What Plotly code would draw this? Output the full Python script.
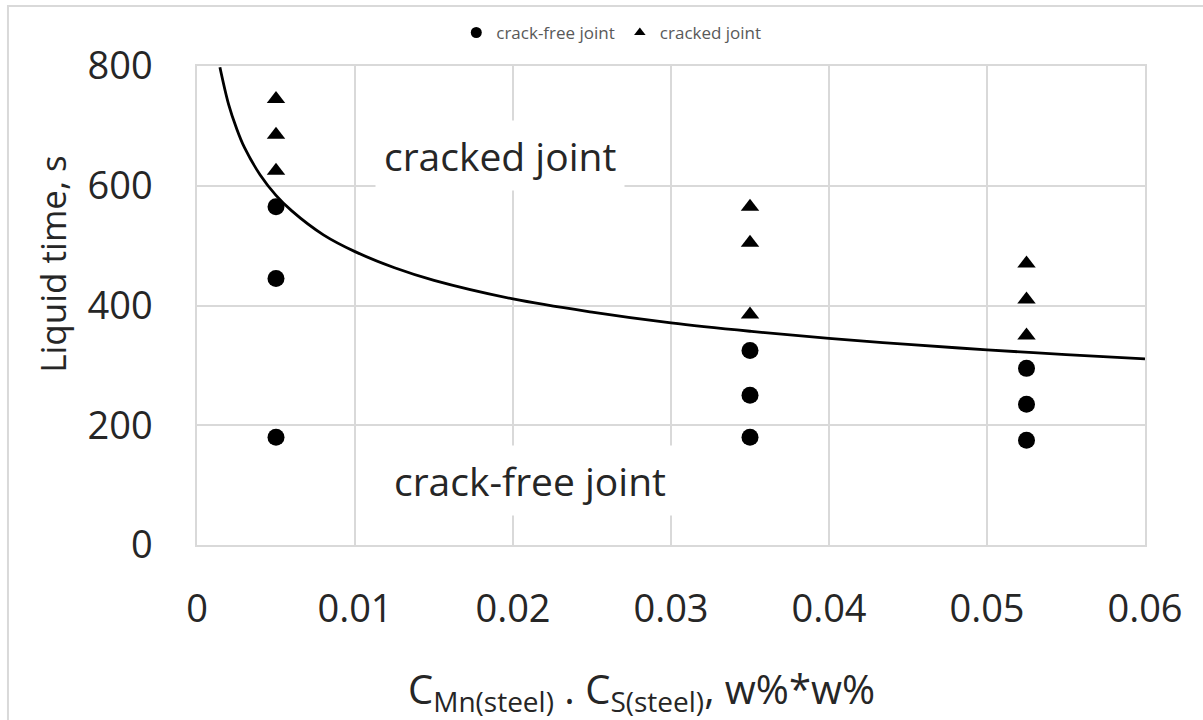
import plotly.graph_objects as go

# Data
free_x = [0.005, 0.005, 0.005, 0.035, 0.035, 0.035, 0.0525, 0.0525, 0.0525]
free_y = [565, 445, 180, 325, 250, 180, 295, 235, 175]

cracked_x = [0.005, 0.005, 0.005, 0.035, 0.035, 0.035, 0.0525, 0.0525, 0.0525]
cracked_y = [745, 685, 625, 565, 505, 385, 470, 410, 350]

# Boundary curve
curve_x = [0.00145, 0.002, 0.0025, 0.003, 0.004, 0.005, 0.006, 0.008, 0.01, 0.0125,
           0.015, 0.02, 0.025, 0.03, 0.035, 0.04, 0.045, 0.05, 0.055, 0.06]
curve_y = [798, 736, 696, 664, 618, 584, 558, 518, 490, 463,
           442, 411, 389, 371, 357, 345, 335, 326, 318, 311]

x_ticks = [0, 0.01, 0.02, 0.03, 0.04, 0.05, 0.06]
x_tick_labels = ["0", "0.01", "0.02", "0.03", "0.04", "0.05", "0.06"]
y_ticks = [0, 200, 400, 600, 800]

FONT = "Open Sans"
TXT = "#262626"
GRID = "#d9d9d9"

fig = go.Figure()
fig.add_trace(go.Scatter(x=curve_x, y=curve_y, mode="lines", line=dict(color="black", width=2.8, shape="spline"),
                         showlegend=False, hoverinfo="skip"))
fig.add_trace(go.Scatter(x=free_x, y=free_y, mode="markers", name="crack-free joint",
                         marker=dict(symbol="circle", size=17, color="black"), showlegend=False))
fig.add_trace(go.Scatter(x=cracked_x, y=cracked_y, mode="markers", name="cracked joint",
                         marker=dict(symbol="triangle-up", size=16, color="black"), showlegend=False))
# legend entries with small symbols
fig.add_trace(go.Scatter(x=[None], y=[None], mode="markers", name="crack-free joint",
                         marker=dict(symbol="circle", size=11, color="black")))
fig.add_trace(go.Scatter(x=[None], y=[None], mode="markers", name="cracked joint",
                         marker=dict(symbol="triangle-up", size=10, color="black")))

fig.update_layout(
    width=1203, height=720,
    margin=dict(l=197, r=58, t=66, b=175),
    paper_bgcolor="white", plot_bgcolor="white",
    font=dict(family=FONT, color=TXT),
    legend=dict(orientation="h", x=0.437, y=1.069, xanchor="center", yanchor="middle",
                font=dict(size=17, color="#595959"), itemwidth=30, tracegroupgap=0,
                bgcolor="rgba(0,0,0,0)"),
    xaxis=dict(range=[0, 0.06], tickvals=x_ticks, ticktext=x_tick_labels,
               showgrid=True, gridcolor=GRID, gridwidth=1.5, zeroline=False,
               showline=True, linecolor=GRID, linewidth=1.5, mirror=True,
               ticks="", ticklabelstandoff=30, tickfont=dict(size=38, color=TXT)),
    yaxis=dict(range=[0, 800], tickvals=y_ticks,
               showgrid=True, gridcolor=GRID, gridwidth=1.5, zeroline=False,
               showline=True, linecolor=GRID, linewidth=1.5, mirror=True,
               ticks="", ticklabelstandoff=35, tickfont=dict(size=38, color=TXT)),
    annotations=[
        dict(x=0.0192, y=650, xref="x", yref="y", text="cracked joint", showarrow=False,
             font=dict(size=39, color=TXT), bgcolor="white", borderpad=8),
        dict(x=0.0211, y=108, xref="x", yref="y", text="crack-free joint", showarrow=False,
             font=dict(size=39, color=TXT), bgcolor="white", borderpad=8),
        dict(x=-0.152, y=0.587, xref="paper", yref="paper", text="Liquid time, s", showarrow=False,
             textangle=-90, font=dict(size=35, color=TXT), xanchor="center", yanchor="middle"),
        dict(x=0.469, y=-0.303, xref="paper", yref="paper",
             text="C<sub>Mn(steel)</sub> . C<sub>S(steel)</sub>, w%*w%", showarrow=False,
             font=dict(size=40, color=TXT), xanchor="center", yanchor="middle"),
    ],
    shapes=[
        dict(type="rect", xref="paper", yref="paper", x0=-0.1994, x1=1.08, y0=-0.4, y1=1.1253,
             line=dict(color=GRID, width=2), fillcolor="rgba(0,0,0,0)", layer="below"),
    ],
)

fig.write_html("out.html")
